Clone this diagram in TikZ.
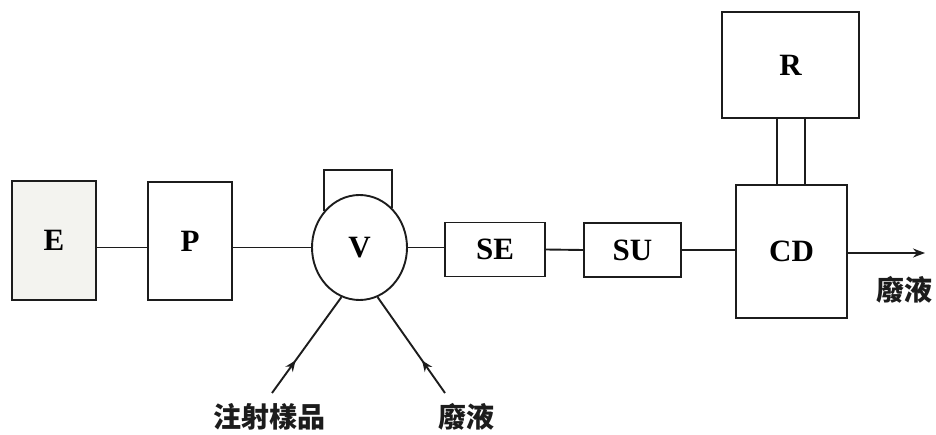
\documentclass[tikz,border=0pt]{standalone}
\usepackage{fontspec}
\setmainfont{Liberation Serif}
\newfontfamily\cjkfont{Noto Sans CJK TC}
\usetikzlibrary{arrows.meta,shapes.geometric,decorations.markings}

\definecolor{ink}{HTML}{1C1C1C}
\definecolor{boxfill}{HTML}{F3F3EF}

\tikzset{
  block/.style={draw=ink, line width=1.9pt, fill=white, inner sep=0pt,
                font=\fontsize{31}{31}\selectfont\bfseries},
  pipe/.style={draw=ink, line width=1.9pt},
  flowmark/.style={pipe, postaction={decorate},
    decoration={markings, mark=at position 0.34 with {\arrow{Stealth[length=11pt,width=9pt]}}}},
  cjklabel/.style={font=\cjkfont\bfseries\fontsize{28}{28}\selectfont, inner sep=0pt, text=ink}
}

\begin{document}
\begin{tikzpicture}[x=1pt, y=-1pt]
  \useasboundingbox (0,0) rectangle (936,435);

  % main units along the flow line
  \node[block, fill=boxfill, minimum width=84pt, minimum height=119pt] (E) at (54,240.5) {E};
  \node[block, minimum width=84pt, minimum height=118pt] (P) at (190,241) {P};
  \node[block, ellipse, minimum width=95pt, minimum height=105pt] (V) at (359.5,247.5) {V};
  \node[block, minimum width=100pt, minimum height=54pt] (SE) at (495,249.5) {SE};
  \node[block, minimum width=97pt, minimum height=54pt] (SU) at (632.5,250) {SU};
  \node[block, minimum width=111pt, minimum height=133pt] (CD) at (791.5,251.5) {CD};
  \node[block, minimum width=137pt, minimum height=106pt] (R) at (790.5,65) {R};

  % loop on top of the valve
  \draw[pipe] (V.134) -- (V.134 |- 0,170) -- (V.50 |- 0,170) -- (V.50);

  % connecting tubes
  \draw[pipe] (E.east |- V.center) -- (P.west |- V.center);
  \draw[pipe] (P.east |- V.center) -- (V.west);
  \draw[pipe] (V.east) -- (SE.west |- V.center);
  \draw[pipe] (SE.east) -- (SU.west);
  \draw[pipe] (SU.east) -- (CD.west |- SU.east);

  % double link between R and CD
  \draw[pipe] ([xshift=-13.5pt]R.south) -- ([xshift=-14.5pt]CD.north);
  \draw[pipe] ([xshift=14.5pt]R.south) -- ([xshift=13.5pt]CD.north);

  % outlet of the detector
  \coordinate (out) at (925,253);
  \draw[pipe, -{Stealth[length=12pt,width=9pt]}] (CD.east |- out) -- (out);
  \node[cjklabel] (wasteR) at (904,290) {廢液};

  % sample injection and waste lines at the valve
  \coordinate (inj) at (272,393);
  \coordinate (wst) at (445,393);
  \draw[flowmark] (inj) -- (V.250);
  \draw[flowmark] (wst) -- (V.290);
  \node[cjklabel] (injL) at (269,417) {注射樣品};
  \node[cjklabel] (wasteL) at (466,417) {廢液};
\end{tikzpicture}
\end{document}
